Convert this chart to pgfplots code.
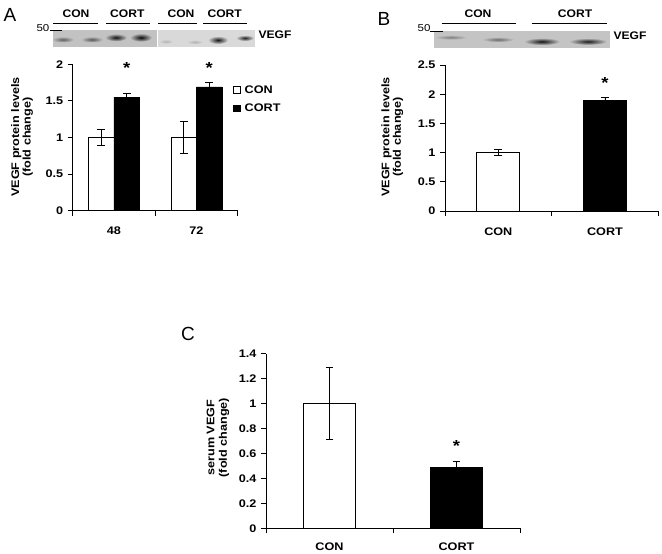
\documentclass[border=0pt]{standalone}
\usepackage{fontspec}
\setmainfont{Liberation Sans}[FakeStretch=1.15]
\newfontfamily\blotfont{Liberation Sans}[FakeStretch=1.1]
\newfontfamily\letterfont{Liberation Sans}
\usepackage{pgfplots}
\pgfplotsset{compat=1.18}
\usetikzlibrary{fadings}
\tikzfading[name=fuzzy, inner color=transparent!0, outer color=transparent!100]

\newcommand{\band}[5]{\fill[black, opacity=#5, path fading=fuzzy] (#1,#2) ellipse (#3 and #4);}
\tikzset{sigstar/.style={font=\fontsize{16}{16}\selectfont\bfseries, inner sep=0pt}}

\pgfplotsset{
  panel/.style={
    scale only axis, anchor=south west,
    axis lines*=left,
    axis line style={black, line width=0.9pt},
    tick align=outside, major tick length=5pt,
    tick style={black, line width=0.9pt},
    xmin=-0.5, xmax=1.5, ymin=0,
    xtick={-0.5,0.5,1.5}, xticklabels={,,},
    extra x ticks={0,1},
    extra x tick style={major tick length=0pt, xticklabel style={yshift=-13pt}},
    tick label style={font=\fontsize{11}{12}\selectfont\bfseries},
    /pgf/number format/assume math mode=true,
    ylabel style={font=\fontsize{11}{11.5}\selectfont\bfseries, align=center, anchor=center},
    yticklabel style={xshift=-1pt},
    clip=false,
  },
  ebars/.style={error bars/.cd, y dir=both, y explicit,
    error bar style={line width=0.8pt, black},
    error mark options={rotate=90, mark size=3.9pt, line width=0.8pt, black}},
}

\begin{document}
\begin{tikzpicture}
\begin{scope}[x=1pt, y=-1pt]
\useasboundingbox (0,0) rectangle (662,553);
% panel letters
\node[font=\letterfont\fontsize{19}{19}\selectfont] at (10,15) {A};
\node[font=\letterfont\fontsize{19}{19}\selectfont] at (384,19) {B};
\node[font=\letterfont\fontsize{19}{19}\selectfont] at (188,334) {C};
% blot A
\fill[black!24] (53.3,30) rectangle (156.7,46.7);
\fill[black!15] (157.7,30) rectangle (255,46.7);
\band{63}{39.5}{11}{3}{0.5}
\band{92}{39.5}{11}{3}{0.55}
\band{116}{37.5}{11}{3.8}{0.9}
\band{141}{37.5}{11}{4.2}{0.95}
\band{166}{41.5}{7}{2.2}{0.18}
\band{195}{42}{8}{2.2}{0.18}
\band{218}{40}{10}{4}{0.9}
\band{245}{38}{9}{3}{0.85}
\node[font=\fontsize{10}{10}\selectfont] at (43,28.5) {50};
\draw[line width=0.8pt] (50,30.5) -- (61.7,30.5);
\node[font=\blotfont\fontsize{11}{11}\selectfont\bfseries] at (275,35) {VEGF};
\foreach \xa/\xb/\xc/\lab in {53.3/98.3/76/CON, 106/150/127.3/CORT, 158.3/196.7/181/CON, 203.3/246.7/224.7/CORT}{
  \draw[line width=0.8pt] (\xa,23.3) -- (\xb,23.3);
  \node[font=\blotfont\fontsize{11}{11}\selectfont\bfseries] at (\xc,13.3) {\lab};
}
% blot B
\fill[black!23] (434.3,30.7) rectangle (610,47.7);
\band{451}{37.3}{16}{2.4}{0.35}
\band{498}{39.5}{16}{2.6}{0.45}
\band{542}{41.5}{18}{3.6}{0.9}
\band{588}{41.5}{19}{3.4}{0.85}
\node[font=\fontsize{10}{10}\selectfont] at (424,28) {50};
\draw[line width=0.8pt] (430,31) -- (443,31);
\node[font=\blotfont\fontsize{11}{11}\selectfont\bfseries] at (630,36) {VEGF};
\foreach \xa/\xb/\xc/\lab in {441.7/515.7/478/CON, 531.7/606.7/575/CORT}{
  \draw[line width=0.8pt] (\xa,23.3) -- (\xb,23.3);
  \node[font=\blotfont\fontsize{11}{11}\selectfont\bfseries] at (\xc,13.3) {\lab};
}
\end{scope}

% ---------- Panel A ----------
\begin{axis}[panel, at={(72.7pt,-210.7pt)}, width=165pt, height=146.4pt,
  ymax=2, ytick={0,0.5,1,1.5,2},
  extra x tick labels={48,72},
  ylabel={VEGF protein levels\\(fold change)},
  ylabel style={at={(axis description cs:-0.307,0.503)}},
  legend style={at={(0.973,0.87)}, anchor=north west, draw=none, fill=none,
    inner sep=0pt, row sep=5pt, font=\fontsize{11}{12}\selectfont\bfseries,
    /tikz/every odd column/.style={column sep=2pt}},
  legend cell align=left,
]
\addplot[ybar, bar width=25.5pt, bar shift=0pt, fill=white, draw=black, line width=0.8pt,
  legend image code/.code={\draw[fill=white,draw=black,line width=0.6pt] (0pt,-3.3pt) rectangle (6.7pt,3.4pt);},
  ebars] coordinates {(-0.1545,1.00) +- (0,0.11) (0.8455,1.00) +- (0,0.22)};
\addlegendentry{CON}
\addplot[ybar, bar width=25.5pt, bar shift=0pt, fill=black, draw=black, line width=0.8pt,
  legend image code/.code={\draw[fill=black,draw=black,line width=0.6pt] (0pt,-3.3pt) rectangle (6.7pt,3.4pt);},
  ebars] coordinates {(0.1545,1.55) +- (0,0.05) (1.1545,1.69) +- (0,0.06)};
\addlegendentry{CORT}
\node[sigstar] at (axis cs:0.1545,1.955) {*};
\node[sigstar] at (axis cs:1.1545,1.955) {*};
\end{axis}

% ---------- Panel B ----------
\begin{axis}[panel, at={(445pt,-211pt)}, width=213.3pt, height=146pt,
  ymax=2.5, ytick={0,0.5,1,1.5,2,2.5},
  extra x tick labels={CON,CORT},
  ylabel={VEGF protein levels\\(fold change)},
  ylabel style={at={(axis description cs:-0.247,0.507)}},
]
\addplot[ybar, bar width=43pt, bar shift=0pt, fill=white, draw=black, line width=0.8pt, ebars]
  coordinates {(0,1.00) +- (0,0.05)};
\addplot[ybar, bar width=43pt, bar shift=0pt, fill=black, draw=black, line width=0.8pt, ebars]
  coordinates {(1,1.89) +- (0,0.06)};
\node[sigstar] at (axis cs:1,2.19) {*};
\end{axis}

% ---------- Panel C ----------
\begin{axis}[panel, at={(266pt,-528.3pt)}, width=254pt, height=174.6pt,
  ymax=1.4, ytick={0,0.2,0.4,0.6,0.8,1,1.2,1.4},
  extra x tick labels={CON,CORT},
  extra x tick style={xticklabel style={yshift=2pt}},
  ylabel={serum VEGF\\(fold change)},
  ylabel style={at={(axis description cs:-0.189,0.519)}, font=\fontsize{11}{12.5}\selectfont\bfseries},
]
\addplot[ybar, bar width=51.5pt, bar shift=0pt, fill=white, draw=black, line width=0.8pt, ebars]
  coordinates {(0,1.00) +- (0,0.29)};
\addplot[ybar, bar width=51.5pt, bar shift=0pt, fill=black, draw=black, line width=0.8pt, ebars]
  coordinates {(1,0.49) +- (0,0.045)};
\node[sigstar] at (axis cs:1,0.662) {*};
\end{axis}
\end{tikzpicture}
\end{document}
